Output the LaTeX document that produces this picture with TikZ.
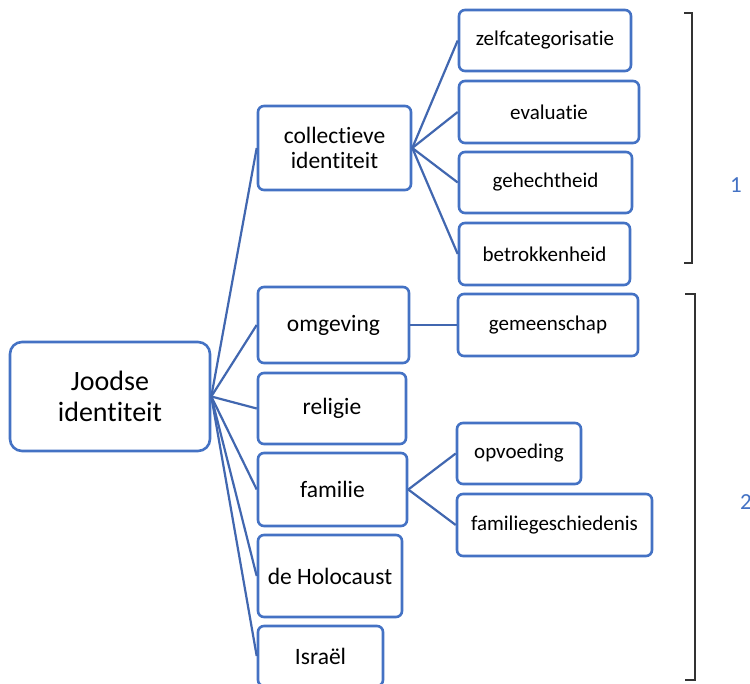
\documentclass[tikz,border=0pt]{standalone}
\usepackage{fontspec}
\setmainfont[Ligatures={NoCommon}]{Carlito}
\definecolor{boxblue}{HTML}{4472C4}
\definecolor{lineblue}{HTML}{4167B0}
\definecolor{brk}{HTML}{333333}
\tikzset{
  box/.style={draw=boxblue, line width=2.6pt, rounded corners=6pt, fill=white,
    align=center, inner sep=0pt, font=\fontsize{23.5}{25}\selectfont},
  subbox/.style={box, font=\fontsize{21}{23}\selectfont},
  conn/.style={draw=lineblue, line width=2.2pt},
  brack/.style={draw=brk, line width=1.2pt},
  lbl/.style={text=boxblue, font=\fontsize{23}{25}\selectfont, inner sep=0pt}
}
\begin{document}
\begin{tikzpicture}[x=1pt,y=-1pt]
\clip (0,0) rectangle (750,684);
\fill[white] (0,0) rectangle (750,684);
% main node
\node[box, rounded corners=12pt, minimum width=200pt, minimum height=109pt,
  font=\fontsize{28}{31}\selectfont] (joodse) at (110,396.5) {Joodse\\identiteit};
% level 2
\node[box, minimum width=153pt, minimum height=84pt] (coll) at (334.5,148) {collectieve\\identiteit};
\node[box, minimum width=151pt, minimum height=76pt] (omg) at (333.5,325) {omgeving};
\node[box, minimum width=148pt, minimum height=71pt] (rel) at (332,408.5) {religie};
\node[box, minimum width=149pt, minimum height=73pt] (fam) at (332.5,489.5) {familie};
\node[box, minimum width=144pt, minimum height=82pt] (holo) at (330,576) {de Holocaust};
\node[box, minimum width=125pt, minimum height=60pt] (isr) at (320.5,656) {Israël};
% level 3
\node[subbox, minimum width=172pt, minimum height=61pt] (zelf) at (545,40.5) {zelfcategorisatie};
\node[subbox, minimum width=180pt, minimum height=62pt] (eval) at (549,112) {evaluatie};
\node[subbox, minimum width=173pt, minimum height=61pt] (geh) at (545.5,182.5) {gehechtheid};
\node[subbox, minimum width=171pt, minimum height=62pt] (betr) at (544.5,254) {betrokkenheid};
\node[subbox, minimum width=180pt, minimum height=62pt] (gem) at (548,325) {gemeenschap};
\node[subbox, minimum width=124pt, minimum height=61pt] (opv) at (519,453.5) {opvoeding};
\node[subbox, minimum width=195pt, minimum height=62pt] (fgs) at (554.5,525) {familiegeschiedenis};
% connectors
\foreach \c in {coll,omg,rel,fam,holo,isr}
  \draw[conn] (joodse.east) -- (\c.west);
\foreach \c in {zelf,eval,geh,betr}
  \draw[conn] (coll.east) -- (\c.west);
\draw[conn] (omg.east) -- (gem.west);
\draw[conn] (fam.east) -- (opv.west);
\draw[conn] (fam.east) -- (fgs.west);
% brackets
\coordinate (b1a) at (684,13);
\coordinate (b1b) at (692,13);
\coordinate (b1c) at (692,263);
\coordinate (b1d) at (684,263);
\draw[brack] (b1a) -- (b1b) -- (b1c) -- (b1d);
\coordinate (b2a) at (685,294);
\coordinate (b2b) at (695,294);
\coordinate (b2c) at (695,680);
\coordinate (b2d) at (685,680);
\draw[brack] (b2a) -- (b2b) -- (b2c) -- (b2d);
\node[lbl] (l1) at (736,185) {1};
\node[lbl] (l2) at (746,502) {2};
\end{tikzpicture}
\end{document}
